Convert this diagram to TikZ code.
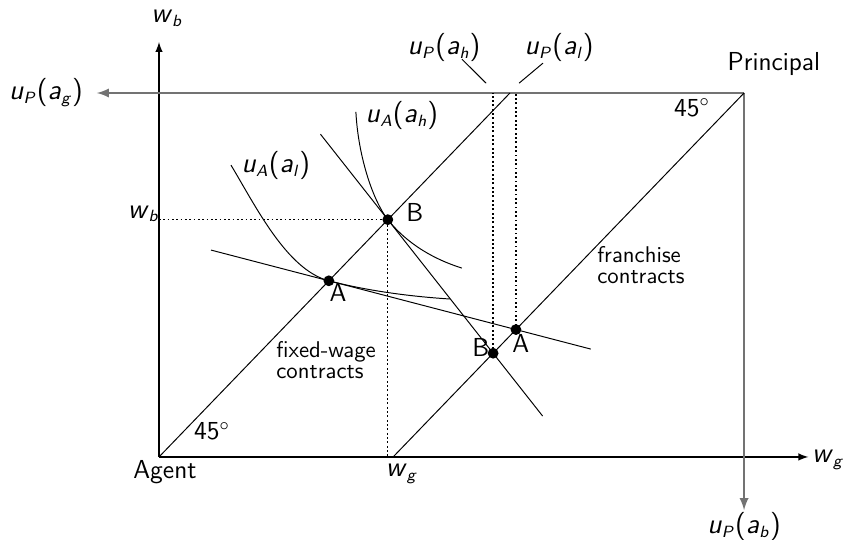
\documentclass[tikz,border=0pt]{standalone}
\usetikzlibrary{calc}

\newcommand{\sv}[1]{\textsl{#1}}
\newcommand{\sbs}[1]{\textsubscript{\fontsize{7.5}{8}\selectfont\sv{#1}}}
\newcommand{\uP}[1]{\sv{u}\sbs{P}(\sv{a}\sbs{#1})}
\newcommand{\uA}[1]{\sv{u}\sbs{A}(\sv{a}\sbs{#1})}
\newcommand{\wv}[1]{\sv{w}\sbs{#1}}

\tikzset{
  thinline/.style={line width=0.45pt},
  boxline/.style={line width=0.9pt, black!55},
  axisline/.style={line width=0.6pt},
  guide/.style={line width=0.6pt, dash pattern=on 0.8pt off 1.2pt},
  dot/.style={circle, fill, inner sep=0pt, minimum size=5pt},
  lbl/.style={font=\sffamily\fontsize{12}{14}\selectfont, inner sep=0pt},
  mlbl/.style={font=\sffamily\fontsize{13}{15}\selectfont, inner sep=0pt},
  note/.style={font=\sffamily\fontsize{10.5}{9.5}\selectfont, align=left, inner sep=0pt},
}

\begin{document}
\begin{tikzpicture}[x=0.5693cm, y=0.5904cm, >=latex]
        \useasboundingbox (-4.53,-2.28) rectangle (19.66,12.555);
        % corners and contracts
        \coordinate (agent) at (0,0);
        \coordinate (principal) at (16.67,10);
        \coordinate (A) at (4.84,4.84);
        \coordinate (B) at (6.52,6.52);
        \coordinate (Bl) at (9.52,2.85);
        \coordinate (Al) at (10.17,3.50);
        % axes of the agent
        \draw[->,axisline] (agent) -- (18.5,0);
        \draw[->,axisline] (agent) -- (0,11.4);
        % axes of the principal
        \draw[->,boxline] (principal) -- (-1.77,10);
        \draw[->,boxline] (principal) -- (16.67,-1.46);
        % 45 degree lines
        \draw[thinline] (agent) -- (10,10);
        \draw[thinline] (principal) -- (6.67,0);
        % dotted guides
        \draw[guide] (0,6.52) -- (B) -- (6.52,0);
        \draw[guide] (Bl) -- (9.52,10);
        \draw[guide] (Al) -- (10.17,10);
        % iso-profit lines
        \draw[thinline] ($(B)!-0.64!(Bl)$) -- ($(Bl)!-0.47!(B)$);
        \draw[thinline] ($(A)!-0.63!(Al)$) -- ($(Al)!-0.40!(A)$);
        % indifference curves
        \draw[thinline] (2.05,8.02) .. controls (2.75,6.9) and (3.64,5.14) .. (A)
                .. controls (6.04,4.54) and (7.3,4.4) .. (8.29,4.34);
        \draw[thinline] (5.61,9.48) .. controls (5.68,8.2) and (6.12,7.01) .. (B)
                .. controls (6.92,6.03) and (7.6,5.5) .. (8.63,5.19);
        % contract points
        \node[dot] (dA) at (A) {};
        \node[dot] (dB) at (B) {};
        \node[dot] (dBl) at (Bl) {};
        \node[dot] (dAl) at (Al) {};
        \node[lbl] (lA) at (5.10,4.53) {A};
        \node[lbl] (lB) at (7.29,6.73) {B};
        \node[lbl] (lBl) at (9.17,3.02) {B};
        \node[lbl] (lAl) at (10.31,3.13) {A};
        % axis labels
        \node[mlbl] (wgr) at (19.06,-0.08) {\wv{g}};
        \node[mlbl] (wbt) at (0.23,12.06) {\wv{b}};
        \node[mlbl] (wbl) at (-0.44,6.68) {\wv{b}};
        \node[mlbl] (wgb) at (6.92,-0.47) {\wv{g}};
        \node[mlbl] (uPg) at (-3.22,10) {\uP{g}};
        \node[mlbl] (uPb) at (16.67,-1.92) {\uP{b}};
        \node[lbl] (nAgent) at (0.17,-0.41) {Agent};
        \node[lbl] (nPrincipal) at (17.52,10.80) {Principal};
        \node[lbl] (degA) at (1.51,0.71) {45$^{\circ}$};
        \node[lbl] (degP) at (15.19,9.59) {45$^{\circ}$};
        % curve labels
        \node[mlbl] (uAl) at (3.33,8.0) {\uA{l}};
        \node[mlbl] (uAh) at (6.92,9.37) {\uA{h}};
        \node[mlbl] (uPh) at (8.12,11.26) {\uP{h}};
        \node[mlbl] (uPl) at (11.40,11.26) {\uP{l}};
        \coordinate (tPh) at (9.32,10.27);
        \coordinate (tPl) at (10.26,10.27);
        \draw[thinline] (8.63,10.93) -- (tPh);
        \draw[thinline] (10.94,10.82) -- (tPl);
        % regions
        \node[note] (fixed) at (4.76,2.66) {fixed-wage\\contracts};
        \node[note] (franchise) at (13.73,5.27) {franchise\\contracts};
\end{tikzpicture}
\end{document}
